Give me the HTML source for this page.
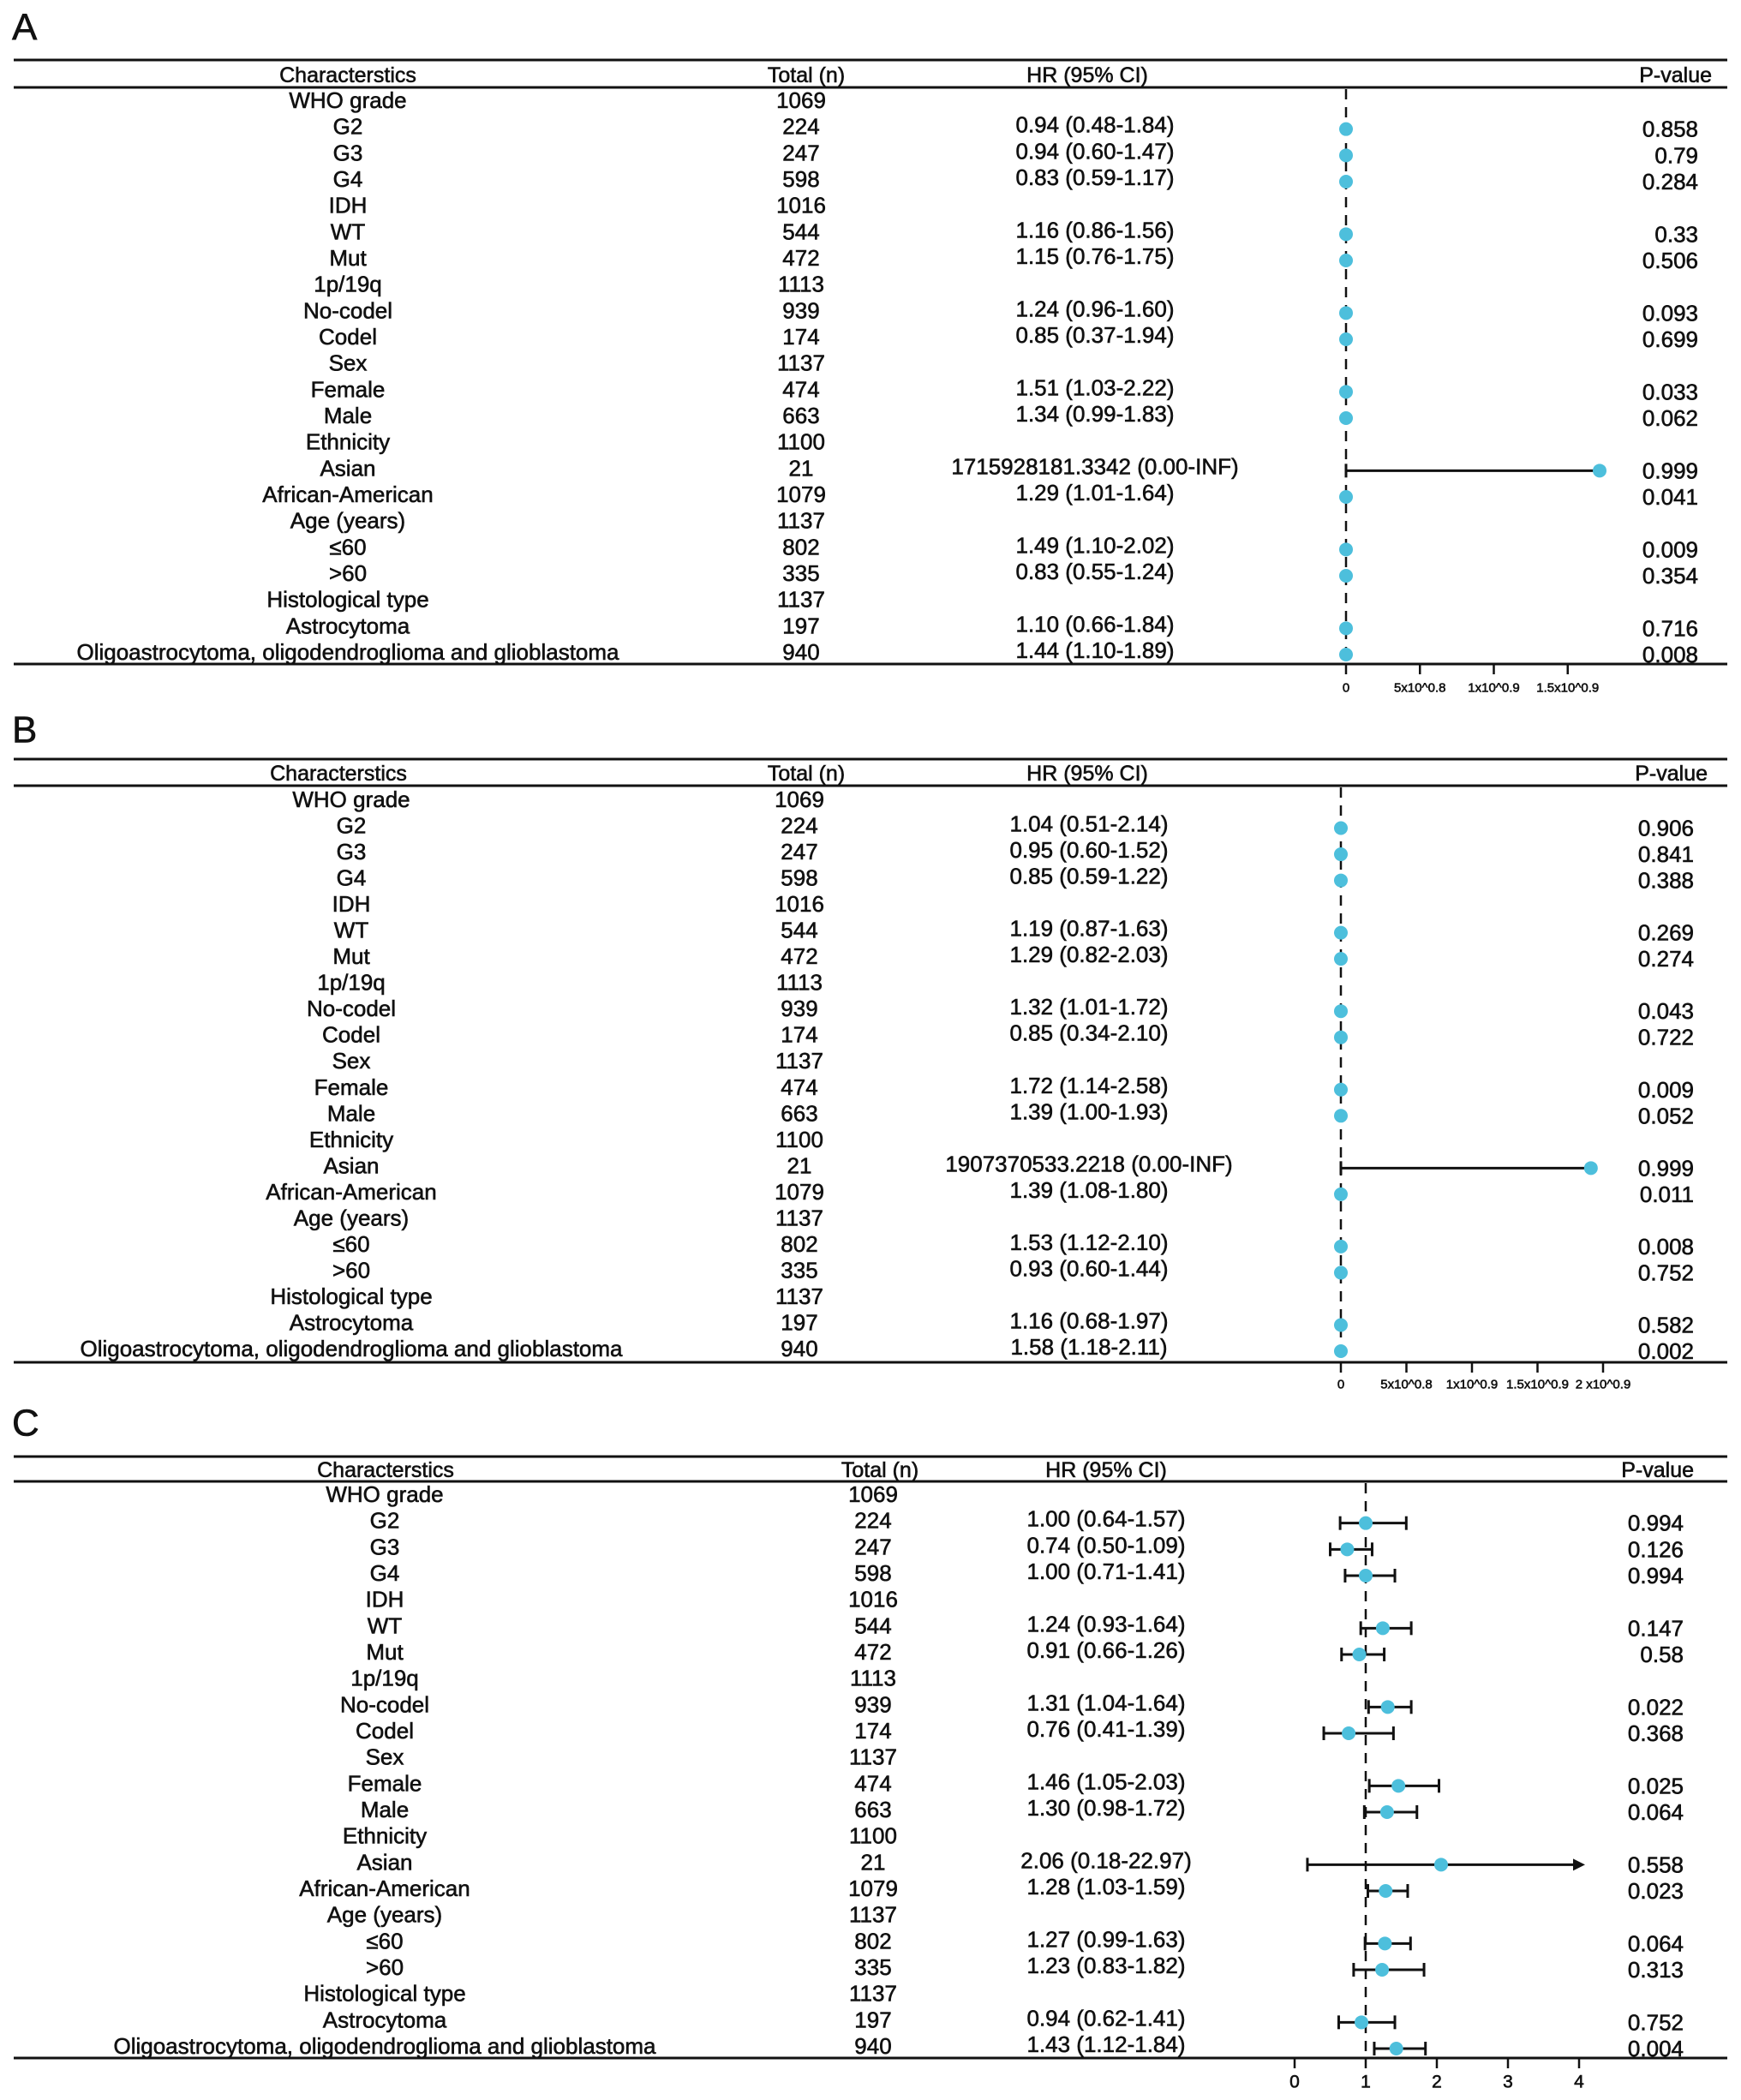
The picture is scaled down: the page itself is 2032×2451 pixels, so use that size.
<!DOCTYPE html>
<html><head><meta charset="utf-8">
<style>
html,body{margin:0;padding:0;background:#fff;}
svg{display:block;font-family:"Liberation Sans",Arial,sans-serif;}
svg text{stroke:#111;stroke-width:0.6px;}
</style></head>
<body>
<svg id="fig" width="2032" height="2451" viewBox="0 0 2032 2451"></svg>
<script>
const labels = ["WHO grade","G2","G3","G4","IDH","WT","Mut","1p/19q","No-codel","Codel","Sex","Female","Male","Ethnicity","Asian","African-American","Age (years)","\u226460",">60","Histological type","Astrocytoma","Oligoastrocytoma, oligodendroglioma and glioblastoma"];
const totals = ["1069","224","247","598","1016","544","472","1113","939","174","1137","474","663","1100","21","1079","1137","802","335","1137","197","940"];

const hrA = [null,0.94,0.94,0.83,null,1.16,1.15,null,1.24,0.85,null,1.51,1.34,null,1715928181.3342,1.29,null,1.49,0.83,null,1.10,1.44];
const loA = [null,0.48,0.60,0.59,null,0.86,0.76,null,0.96,0.37,null,1.03,0.99,null,0,1.01,null,1.10,0.55,null,0.66,1.10];
const hiA = [null,1.84,1.47,1.17,null,1.56,1.75,null,1.60,1.94,null,2.22,1.83,null,null,1.64,null,2.02,1.24,null,1.84,1.89];
const hrTextA = ["","0.94 (0.48-1.84)","0.94 (0.60-1.47)","0.83 (0.59-1.17)","","1.16 (0.86-1.56)","1.15 (0.76-1.75)","","1.24 (0.96-1.60)","0.85 (0.37-1.94)","","1.51 (1.03-2.22)","1.34 (0.99-1.83)","","1715928181.3342 (0.00-INF)","1.29 (1.01-1.64)","","1.49 (1.10-2.02)","0.83 (0.55-1.24)","","1.10 (0.66-1.84)","1.44 (1.10-1.89)"];
const pA = ["","0.858","0.79","0.284","","0.33","0.506","","0.093","0.699","","0.033","0.062","","0.999","0.041","","0.009","0.354","","0.716","0.008"];
const ticksA = [0,0.5e9,1e9,1.5e9];
const tickLabelsA = ["0","5x10^0.8","1x10^0.9","1.5x10^0.9"];

const hrB = [null,1.04,0.95,0.85,null,1.19,1.29,null,1.32,0.85,null,1.72,1.39,null,1907370533.2218,1.39,null,1.53,0.93,null,1.16,1.58];
const loB = [null,0.51,0.60,0.59,null,0.87,0.82,null,1.01,0.34,null,1.14,1.00,null,0,1.08,null,1.12,0.60,null,0.68,1.18];
const hiB = [null,2.14,1.52,1.22,null,1.63,2.03,null,1.72,2.10,null,2.58,1.93,null,null,1.80,null,2.10,1.44,null,1.97,2.11];
const hrTextB = ["","1.04 (0.51-2.14)","0.95 (0.60-1.52)","0.85 (0.59-1.22)","","1.19 (0.87-1.63)","1.29 (0.82-2.03)","","1.32 (1.01-1.72)","0.85 (0.34-2.10)","","1.72 (1.14-2.58)","1.39 (1.00-1.93)","","1907370533.2218 (0.00-INF)","1.39 (1.08-1.80)","","1.53 (1.12-2.10)","0.93 (0.60-1.44)","","1.16 (0.68-1.97)","1.58 (1.18-2.11)"];
const pB = ["","0.906","0.841","0.388","","0.269","0.274","","0.043","0.722","","0.009","0.052","","0.999","0.011","","0.008","0.752","","0.582","0.002"];
const ticksB = [0,0.5e9,1e9,1.5e9,2e9];
const tickLabelsB = ["0","5x10^0.8","1x10^0.9","1.5x10^0.9","2 x10^0.9"];

const hrC = [null,1.00,0.74,1.00,null,1.24,0.91,null,1.31,0.76,null,1.46,1.30,null,2.06,1.28,null,1.27,1.23,null,0.94,1.43];
const loC = [null,0.64,0.50,0.71,null,0.93,0.66,null,1.04,0.41,null,1.05,0.98,null,0.18,1.03,null,0.99,0.83,null,0.62,1.12];
const hiC = [null,1.57,1.09,1.41,null,1.64,1.26,null,1.64,1.39,null,2.03,1.72,null,22.97,1.59,null,1.63,1.82,null,1.41,1.84];
const hrTextC = ["","1.00 (0.64-1.57)","0.74 (0.50-1.09)","1.00 (0.71-1.41)","","1.24 (0.93-1.64)","0.91 (0.66-1.26)","","1.31 (1.04-1.64)","0.76 (0.41-1.39)","","1.46 (1.05-2.03)","1.30 (0.98-1.72)","","2.06 (0.18-22.97)","1.28 (1.03-1.59)","","1.27 (0.99-1.63)","1.23 (0.83-1.82)","","0.94 (0.62-1.41)","1.43 (1.12-1.84)"];
const pC = ["","0.994","0.126","0.994","","0.147","0.58","","0.022","0.368","","0.025","0.064","","0.558","0.023","","0.064","0.313","","0.752","0.004"];
const ticksC = [0,1,2,3,4];
const tickLabelsC = ["0","1","2","3","4"];

const NS = "http://www.w3.org/2000/svg";
const svg = document.getElementById("fig");
function mk(tag, attrs, parent){
  const e = document.createElementNS(NS, tag);
  for (const k in attrs) e.setAttribute(k, attrs[k]);
  (parent||svg).appendChild(e);
  return e;
}
function txt(parent, x, y, s, size, anchor){
  const t = mk("text", {x:x, y:y, "font-size":size, "text-anchor":anchor, "dominant-baseline":"central", fill:"#111"}, parent);
  t.textContent = s;
  return t;
}

function panel(cfg){
  const g = mk("g", {});
  
  
  const letter = txt(g, 14, cfg.letterY, cfg.letter, 44, "start");
  
  
  mk("line", {x1:16, x2:2016, y1:cfg.top, y2:cfg.top, stroke:"#111", "stroke-width":3}, g);
  mk("line", {x1:16, x2:2016, y1:cfg.hline, y2:cfg.hline, stroke:"#111", "stroke-width":3}, g);
  mk("line", {x1:16, x2:2016, y1:cfg.bottom, y2:cfg.bottom, stroke:"#111", "stroke-width":3}, g);
  const hdr = mk("g", {}, g);
  
  
  txt(hdr, cfg.hx[0], cfg.hy, "Characterstics", 25, "middle");
  txt(hdr, cfg.hx[1], cfg.hy, "Total (n)", 25, "middle");
  txt(hdr, cfg.hx[2], cfg.hy, "HR (95% CI)", 25, "middle");
  txt(hdr, cfg.hx[3], cfg.hy, "P-value", 25, "end");
  const xs = v => cfg.x0 + (v - cfg.origin) * cfg.scale;
  const ref = mk("line", {x1:xs(cfg.refVal), x2:xs(cfg.refVal), y1:cfg.hline+2, y2:cfg.bottom, stroke:"#111", "stroke-width":2.5, "stroke-dasharray":"12 9"}, g);
  
  
  const n = labels.length;
  const dy = (cfg.yLast - cfg.yFirst) / (n - 1);
  for (let i = 0; i < n; i++){
    const y = cfg.yFirst + i * dy;
    const row = mk("g", {}, g);
    
    
    txt(row, cfg.cx[0], y, labels[i], 26, "middle");
    txt(row, cfg.cx[1], y, totals[i], 26, "middle");
    if (cfg.hrText[i]) txt(row, cfg.cx[2], y - 2, cfg.hrText[i], 26, "middle");
    if (cfg.p[i]) txt(row, cfg.cx[3], y + 3, cfg.p[i], 26, "end");
    const v = cfg.hr[i];
    if (v === null) continue;
    const my = y + 3;
    const lo = cfg.lo[i];
    let hi = cfg.hi[i];
    const maxX = cfg.maxX;
    let x1 = xs(lo), x2 = hi === null ? xs(v) : xs(hi);
    let arrow = false;
    if (x2 > maxX){ x2 = maxX; arrow = true; }
    const ci = mk("line", {x1:x1, x2:x2, y1:my, y2:my, stroke:"#111", "stroke-width":3}, row);
    
    
    if (cfg.caps){
      mk("line", {x1:x1, x2:x1, y1:my-8, y2:my+8, stroke:"#111", "stroke-width":3}, row);
      if (arrow){
        mk("polygon", {points:`${x2+4},${my} ${x2-10},${my-7} ${x2-10},${my+7}`, fill:"#111"}, row);
      } else {
        mk("line", {x1:x2, x2:x2, y1:my-8, y2:my+8, stroke:"#111", "stroke-width":3}, row);
      }
    } else if (hi === null){
      mk("line", {x1:x1, x2:x1, y1:my-8, y2:my+8, stroke:"#111", "stroke-width":3}, row);
    }
    const pt = mk("circle", {cx:xs(v), cy:my, r:8, fill:"#4dbfdc"}, row);
    
    
  }
  const ax = mk("g", {}, g);
  
  
  cfg.ticks.forEach((t, k) => {
    const x = xs(t);
    mk("line", {x1:x, x2:x, y1:cfg.bottom, y2:cfg.bottom+12, stroke:"#111", "stroke-width":2.5}, ax);
    txt(ax, x, cfg.bottom + cfg.tickDy, cfg.tickLabels[k], cfg.tickSize, "middle");
  });
}

panel({name:"panel-a", letter:"A", letterY:32, top:70, hline:102, bottom:775, hy:88,
  hx:[406,941,1269,1998], cx:[406,935,1278,1982], yFirst:117, yLast:761,
  hr:hrA, lo:loA, hi:hiA, hrText:hrTextA, p:pA, x0:1571, origin:0, scale:1.725e-7, refVal:0, maxX:2000,
  caps:false, ticks:ticksA, tickLabels:tickLabelsA, tickDy:28, tickSize:15});
panel({name:"panel-b", letter:"B", letterY:852, top:886, hline:917, bottom:1590, hy:903,
  hx:[395,941,1269,1993], cx:[410,933,1271,1977], yFirst:933, yLast:1574,
  hr:hrB, lo:loB, hi:hiB, hrText:hrTextB, p:pB, x0:1565, origin:0, scale:1.53e-7, refVal:0, maxX:2000,
  caps:false, ticks:ticksB, tickLabels:tickLabelsB, tickDy:26, tickSize:15});
panel({name:"panel-c", letter:"C", letterY:1661, top:1700, hline:1729, bottom:2402, hy:1716,
  hx:[450,1027,1291,1977], cx:[449,1019,1291,1965], yFirst:1744, yLast:2388,
  hr:hrC, lo:loC, hi:hiC, hrText:hrTextC, p:pC, x0:1511, origin:0, scale:83, refVal:1, maxX:1846,
  caps:true, ticks:ticksC, tickLabels:tickLabelsC, tickDy:28, tickSize:21});
</script>
</body></html>
